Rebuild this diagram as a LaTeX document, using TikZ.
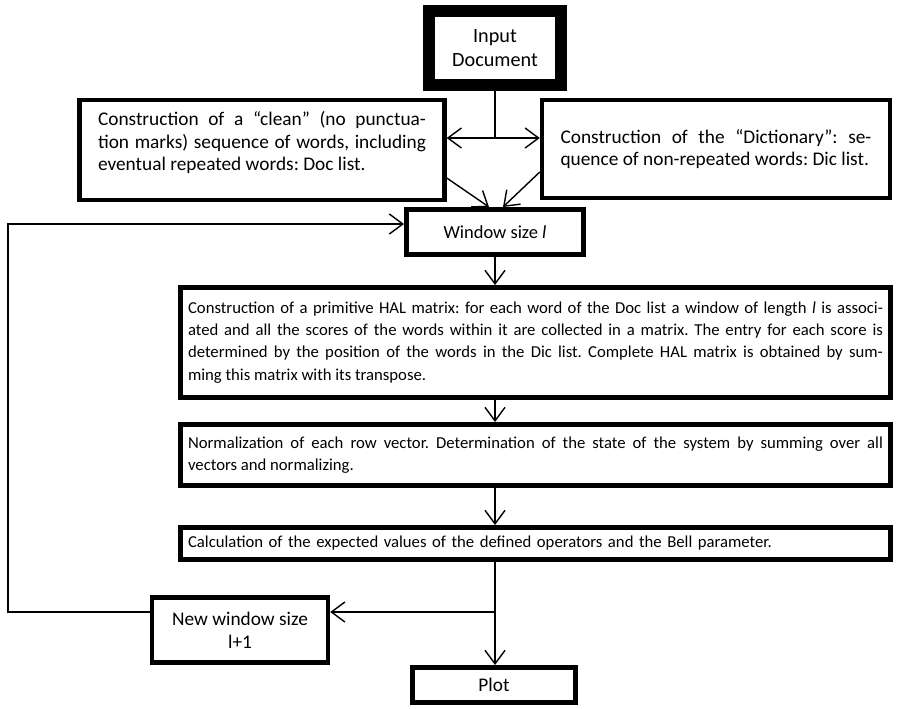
\documentclass[tikz,border=0pt]{standalone}
\usepackage{fontspec}
\setmainfont{Carlito}
\usetikzlibrary{arrows.meta}
\frenchspacing
\tikzset{
  box/.style={draw,line width=#1,inner sep=0pt,align=center},
  box/.default=0.09cm,
  para/.style={text width=#1,align=justify},
  big/.style={font=\fontsize{11.5}{14}\selectfont},
  mid/.style={font=\fontsize{11}{12.8}\selectfont},
  barb/.tip={Straight Barb[length=2.7mm,width=4mm,line width=0.8pt]},
  link/.style={line width=0.8pt},
  flow/.style={link,-barb},
}
\begin{document}
\begin{tikzpicture}[x=0.02cm,y=-0.02cm,font=\fontsize{9.5}{12.6}\selectfont]
    \useasboundingbox (0,0) rectangle (906,708);
    \node[box=0.24cm,big,minimum width=2.64cm,minimum height=1.48cm] (input) at (495,48) {Input\\Document};
    \node[box=0.09cm,mid,minimum width=7.3cm,minimum height=2cm,para=6.56cm] (clean) at (262,150)
        {\hyphenpenalty=10000 Construction of a “clean” (no punctua-\linebreak tion marks) sequence of words, including\linebreak eventual repeated words: Doc list.\\[-3pt]\mbox{}};
    \node[box=0.09cm,mid,minimum width=6.96cm,minimum height=1.96cm,para=6.22cm] (dict) at (716,149)
        {\hyphenpenalty=10000 Construction of the “Dictionary”: se-\linebreak quence of non-repeated words: Dic list.};
    \node[box=0.1cm,minimum width=3.54cm,minimum height=0.9cm,font=\fontsize{10.5}{12}\selectfont] (win) at (495,232) {Window size \textit{l}};
    \node[box=0.1cm,minimum width=14.2cm,minimum height=2.2cm,para=13.9cm] (hal) at (535.5,342.5)
        {\hyphenpenalty=10000 Construction of a primitive HAL matrix: for each word of the Doc list a window of length \textit{l} is associ-\linebreak ated and all the scores of the words within it are collected in a matrix. The entry for each score is\linebreak determined by the position of the words in the Dic list. Complete HAL matrix is obtained by sum-\linebreak ming this matrix with its transpose.};
    \node[box=0.1cm,minimum width=14.2cm,minimum height=1.22cm,para=13.9cm] (norm) at (535.5,455)
        {Normalization of each row vector. Determination of the state of the system by summing over all\linebreak vectors and normalizing.};
    \node[box=0.1cm,minimum width=14.2cm,minimum height=0.64cm,text width=13.9cm,align=left] (calc) at (535.5,543.5)
        {Calculation of the expected values of the defined operators and the Bell parameter.};
    \node[box=0.09cm,minimum width=3.52cm,minimum height=1.3cm,font=\fontsize{11}{13}\selectfont] (newwin) at (240,630) {New window size\\l+1};
    \node[box=0.1cm,minimum width=3.26cm,minimum height=0.7cm,font=\fontsize{11}{13}\selectfont] (plot) at (494,685) {Plot};
    \coordinate (split) at (495,138);
    \coordinate (branch) at (495,612);
    \coordinate (loopbot) at (8,612);
    \coordinate (looptop) at (8,224);
    \draw [link] (input) -- (split);
    \draw [link,barb-barb] (clean.east |- split) -- (dict.west |- split);
    \draw [flow] ([yshift=-0.56cm]clean.east) -- ([xshift=-0.12cm]win.north);
    \draw [flow] ([yshift=-0.46cm]dict.west) -- ([xshift=0.16cm]win.north);
    \draw [flow] (win.south) -- (win.south |- hal.north);
    \draw [flow] (hal.south -| win.south) -- (norm.north -| win.south);
    \draw [flow] (norm.south -| win.south) -- (calc.north -| win.south);
    \draw [flow] (calc.south -| branch) -- (branch |- plot.north);
    \draw [flow] (branch) -- (newwin.east |- branch);
    \draw [flow] (newwin.west |- branch) -- (loopbot) -- (looptop) -- (win.west |- looptop);
\end{tikzpicture}
\end{document}
